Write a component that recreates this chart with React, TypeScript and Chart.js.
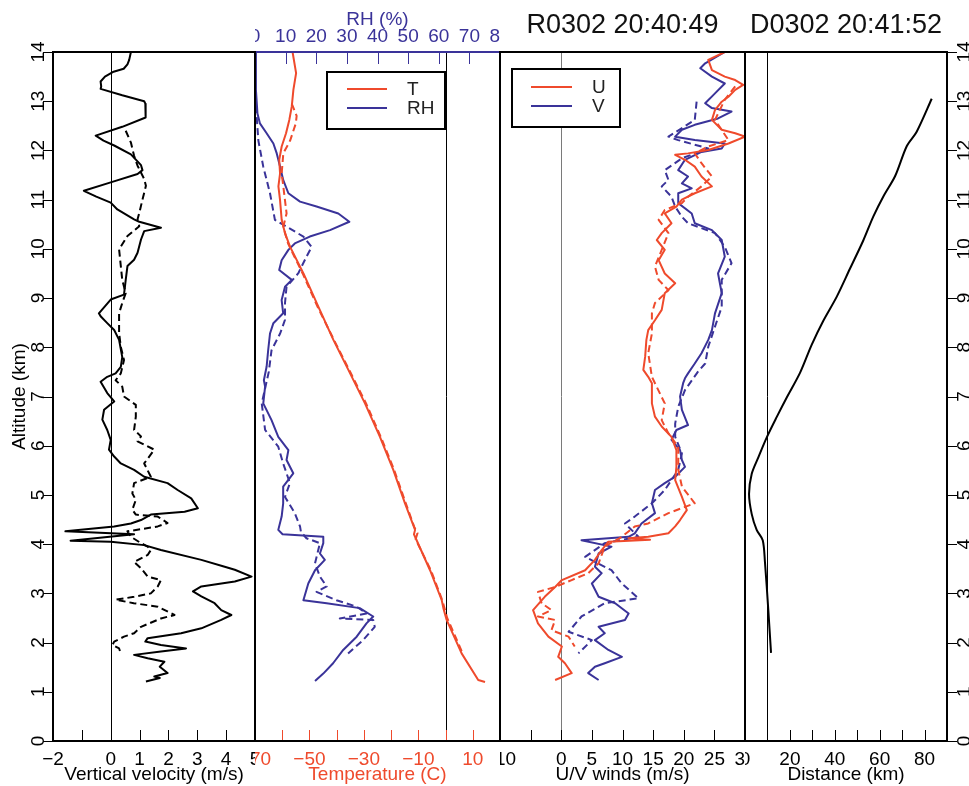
import React, { useEffect, useRef } from 'react';
import { Chart, registerables } from 'chart.js';

Chart.register(...registerables);

const FONT = '"Liberation Sans", Arial, Helvetica, sans-serif';
const RED = '#ef4a2c';
const BLUE = '#3a3399';
const BLACK = '#000000';
const FS = 19;

type Pt = [number, number]; // [value, altitude km]

// ---- Panel 1: vertical velocity (m/s) ----
const vvSolid: Pt[] = [
  [0.70, 14.0], [0.64, 13.84], [0.58, 13.75], [0.45, 13.66], [0.1, 13.6], [-0.2, 13.5], [-0.35, 13.4], [-0.33, 13.3],
  [-0.35, 13.25], [0.4, 13.12], [1.16, 13.0], [1.2, 12.95], [1.22, 12.8], [1.2, 12.67], [0.4, 12.48], [-0.52, 12.3],
  [-0.25, 12.2], [0.12, 12.1], [0.7, 11.92], [1.05, 11.7], [1.1, 11.6], [0.93, 11.52], [0.0, 11.35], [-0.93, 11.18],
  [-0.5, 11.06], [0.0, 10.94], [0.23, 10.8], [0.81, 10.6], [0.99, 10.55], [1.74, 10.43], [1.16, 10.36], [1.05, 10.19],
  [0.93, 9.92], [0.81, 9.78], [0.58, 9.65], [0.52, 9.37], [0.46, 9.07], [0.0, 8.97], [-0.41, 8.69], [-0.35, 8.63],
  [-0.12, 8.49], [0.12, 8.35], [0.29, 8.15], [0.4, 7.8], [0.35, 7.6], [0.17, 7.47], [-0.12, 7.4], [-0.35, 7.3],
  [-0.12, 7.07], [0.12, 6.9], [-0.23, 6.73], [-0.29, 6.53], [-0.12, 6.32], [0.0, 6.12], [-0.06, 5.92], [0.12, 5.78],
  [0.35, 5.64], [0.81, 5.51], [1.16, 5.37], [1.97, 5.24], [2.32, 5.1], [2.79, 4.93], [3.02, 4.73], [2.56, 4.66],
  [1.39, 4.6], [1.05, 4.49], [0.7, 4.42], [0.12, 4.36], [-1.57, 4.26], [0.81, 4.2], [-1.39, 4.07], [0.0, 4.05],
  [1.16, 3.98], [1.74, 3.88], [3.14, 3.68], [3.95, 3.54], [4.3, 3.48], [4.88, 3.34], [4.3, 3.24], [3.14, 3.14],
  [2.85, 3.04], [3.14, 2.94], [3.6, 2.8], [3.83, 2.66], [4.18, 2.56], [3.83, 2.46], [3.14, 2.29], [2.44, 2.19],
  [1.28, 2.09], [1.2, 2.02], [1.74, 1.95], [2.61, 1.88], [1.74, 1.82], [0.81, 1.75], [1.28, 1.68], [1.86, 1.61],
  [1.7, 1.51], [1.97, 1.38], [1.51, 1.31], [1.7, 1.28], [1.22, 1.21],
];
const vvDashed: Pt[] = [
  [0.52, 12.4], [0.7, 12.16], [0.81, 11.89], [0.93, 11.69], [1.16, 11.42], [1.22, 11.28], [1.1, 11.0], [0.99, 10.73],
  [0.93, 10.6], [0.99, 10.46], [0.58, 10.26], [0.29, 9.99], [0.35, 9.65], [0.4, 9.37], [0.52, 9.1], [0.4, 8.9],
  [0.29, 8.69], [0.29, 8.29], [0.35, 8.01], [0.46, 7.74], [0.35, 7.47], [0.17, 7.33], [0.4, 7.2], [0.46, 7.0],
  [0.87, 6.83], [0.87, 6.59], [0.81, 6.32], [1.05, 6.19], [0.93, 6.09], [1.51, 5.92], [1.16, 5.64], [1.39, 5.37],
  [0.81, 5.24], [0.75, 5.03], [0.87, 4.9], [0.75, 4.7], [0.87, 4.6], [1.63, 4.56], [1.97, 4.43], [1.63, 4.36],
  [0.58, 4.26], [0.7, 4.15], [1.05, 4.02], [1.28, 3.95], [1.39, 3.88], [1.28, 3.78], [0.81, 3.64], [1.05, 3.51],
  [1.28, 3.34], [1.74, 3.27], [1.63, 3.14], [1.39, 3.0], [0.81, 2.93], [0.17, 2.87], [0.8, 2.8], [1.63, 2.73],
  [2.21, 2.56], [1.74, 2.49], [1.05, 2.32], [0.81, 2.19], [0.46, 2.12], [0.12, 2.02], [0.06, 1.95], [0.29, 1.88],
  [0.35, 1.78],
];

// ---- Panel 2: temperature (C) and RH (%) ----
const tSolid: Pt[] = [
  [-56.2, 14.0], [-54.9, 13.57], [-55.9, 13.23], [-56.5, 12.89], [-57.4, 12.62], [-58.6, 12.35], [-60.2, 12.08],
  [-61.1, 11.81], [-60.8, 11.53], [-61.4, 11.27], [-60.8, 10.99], [-60.2, 10.59], [-59.0, 10.32], [-57.1, 10.04],
  [-52.2, 9.5], [-46.7, 8.82], [-41.2, 8.15], [-35.7, 7.54], [-29.6, 6.86], [-24.1, 6.18], [-19.2, 5.51],
  [-14.9, 4.83], [-11.2, 4.29], [-11.6, 4.2], [-11.2, 4.15], [-5.7, 3.47], [-1.4, 2.86], [-0.8, 2.7], [0.4, 2.46],
  [5.9, 1.78], [12.0, 1.24], [14.5, 1.2],
];
const tDashed: Pt[] = [
  [-56.5, 12.95], [-54.7, 12.7], [-55.0, 12.55], [-57.1, 12.2], [-59.6, 11.94], [-60.2, 11.53], [-59.6, 11.27],
  [-58.4, 10.72], [-59.6, 10.45], [-57.8, 10.1], [-52.5, 9.5], [-47.0, 8.82], [-41.0, 8.15], [-35.4, 7.54],
  [-29.2, 6.86], [-23.8, 6.18], [-18.9, 5.51], [-14.6, 4.83], [-11.5, 4.35], [-10.3, 4.22], [-11.0, 4.1],
  [-5.4, 3.47], [-1.2, 2.86], [0.6, 2.5], [6.3, 1.78],
];
const rhSolid: Pt[] = [
  [0.3, 14.0], [0.3, 13.23], [0.8, 12.75], [1.6, 12.55], [3.8, 12.35], [6.0, 12.14], [7.1, 11.94], [8.2, 11.67],
  [9.2, 11.4], [10.9, 11.13], [14.7, 10.96], [20.1, 10.86], [27.2, 10.72], [30.8, 10.55], [24.5, 10.38],
  [17.9, 10.25], [13.0, 10.11], [10.9, 9.98], [8.7, 9.77], [7.9, 9.57], [12.0, 9.37], [9.8, 9.23], [8.7, 8.96],
  [9.2, 8.69], [6.0, 8.49], [4.9, 8.28], [4.3, 7.94], [3.8, 7.61], [2.9, 7.33], [3.3, 7.2], [2.7, 6.86],
  [5.4, 6.52], [7.6, 6.18], [10.9, 5.91], [10.3, 5.71], [12.5, 5.44], [9.2, 5.17], [9.2, 4.83], [8.7, 4.56],
  [7.6, 4.29], [9.0, 4.2], [22.3, 4.15], [22.3, 4.02], [21.2, 3.81], [22.8, 3.68], [19.6, 3.47], [17.4, 3.2],
  [15.8, 2.86], [23.4, 2.8], [34.2, 2.7], [38.6, 2.53], [36.4, 2.39], [33.2, 2.12], [28.8, 1.85], [25.5, 1.58],
  [22.3, 1.37], [19.6, 1.22],
];
const rhDashed: Pt[] = [
  [0.3, 12.9], [1.1, 12.2], [2.7, 11.67], [4.9, 11.13], [6.5, 10.59], [10.3, 10.45], [15.8, 10.25], [18.5, 10.04],
  [16.8, 9.84], [14.1, 9.5], [10.3, 9.23], [9.8, 8.9], [9.8, 8.56], [8.2, 8.28], [5.4, 7.94], [4.5, 7.5],
  [2.2, 6.86], [3.3, 6.32], [7.6, 5.98], [9.2, 5.64], [11.4, 5.24], [9.8, 4.96], [13.0, 4.63], [14.7, 4.36],
  [15.0, 4.25], [16.8, 4.12], [21.2, 4.02], [19.6, 3.61], [21.2, 3.34], [23.4, 3.14], [20.1, 3.03], [26.6, 2.86],
  [33.2, 2.73], [36.4, 2.59], [27.7, 2.49], [38.6, 2.46], [39.1, 2.32], [35.3, 2.05], [30.4, 1.78],
];

// ---- Panel 3: U / V winds (m/s) ----
const uSolid: Pt[] = [
  [26.7, 14.0], [24.0, 13.84], [24.6, 13.63], [26.7, 13.5], [28.4, 13.43], [29.7, 13.33], [28.4, 13.23],
  [27.3, 13.09], [26.2, 12.99], [25.1, 12.82], [24.6, 12.62], [26.2, 12.42], [28.4, 12.35], [30.0, 12.28],
  [27.3, 12.14], [24.0, 12.01], [20.7, 11.94], [18.6, 11.91], [20.2, 11.81], [21.8, 11.67], [22.9, 11.47],
  [24.6, 11.27], [21.8, 11.13], [19.7, 11.0], [18.8, 10.86], [16.9, 10.72], [18.0, 10.52], [16.4, 10.32],
  [15.6, 10.18], [16.9, 9.98], [15.9, 9.77], [16.9, 9.5], [18.6, 9.3], [16.9, 9.1], [16.4, 8.76], [15.3, 8.55],
  [14.2, 8.35], [13.9, 8.15], [13.7, 7.81], [13.4, 7.54], [14.2, 7.4], [14.8, 7.27], [14.8, 6.86], [15.3, 6.59],
  [16.4, 6.39], [18.0, 6.18], [18.8, 5.91], [18.8, 5.57], [18.6, 5.3], [19.7, 4.96], [20.5, 4.69], [19.4, 4.49],
  [18.6, 4.36], [17.5, 4.22], [14.2, 4.15], [11.0, 4.12], [14.5, 4.09], [7.7, 4.05], [6.6, 3.88], [5.5, 3.68],
  [3.9, 3.47], [0.1, 3.27], [-1.0, 3.13], [-2.7, 2.93], [-4.6, 2.66], [-3.8, 2.39], [-2.1, 2.12], [0.1, 1.92],
  [-0.5, 1.71], [0.6, 1.58], [1.7, 1.38], [-1.0, 1.24],
];
const uDashed: Pt[] = [
  [28.4, 13.3], [26.7, 13.03], [25.1, 12.62], [27.3, 12.21], [24.0, 12.08], [21.8, 11.94], [22.9, 11.74],
  [24.6, 11.47], [22.9, 11.27], [20.7, 11.06], [19.7, 10.93], [16.9, 10.79], [15.9, 10.59], [17.5, 10.32],
  [16.4, 9.98], [15.3, 9.64], [15.9, 9.37], [17.5, 9.16], [15.3, 8.9], [14.8, 8.69], [14.8, 8.28], [14.2, 7.88],
  [14.8, 7.4], [15.3, 7.27], [16.9, 6.86], [16.4, 6.52], [17.5, 6.25], [19.1, 5.98], [19.1, 5.51], [19.7, 5.17],
  [21.8, 4.83], [17.5, 4.63], [14.2, 4.42], [12.0, 4.36], [9.9, 4.15], [7.1, 3.95], [6.1, 3.61], [4.4, 3.41],
  [1.7, 3.27], [-1.0, 3.13], [-3.8, 3.03], [-3.2, 2.8], [-1.6, 2.66], [-3.8, 2.53], [-1.0, 2.46], [-1.6, 2.25],
  [1.2, 2.12], [2.2, 1.92],
];
const vSolid: Pt[] = [
  [26.7, 14.0], [23.5, 13.77], [22.7, 13.67], [24.6, 13.5], [26.7, 13.36], [25.1, 13.16], [23.5, 12.96],
  [24.6, 12.86], [27.8, 12.79], [25.6, 12.65], [21.8, 12.52], [19.7, 12.42], [18.6, 12.28], [21.8, 12.21],
  [26.7, 12.14], [26.2, 12.04], [22.9, 11.97], [20.2, 11.81], [19.1, 11.6], [20.7, 11.47], [19.7, 11.33],
  [21.3, 11.23], [19.1, 11.13], [19.1, 10.93], [21.3, 10.72], [21.8, 10.52], [24.6, 10.38], [26.2, 10.18],
  [26.7, 9.84], [25.6, 9.5], [26.2, 9.1], [25.1, 8.69], [24.6, 8.35], [24.0, 8.15], [22.9, 7.88], [21.8, 7.67],
  [20.7, 7.47], [20.2, 7.37], [19.9, 7.27], [19.4, 7.0], [19.7, 6.73], [20.7, 6.42], [18.8, 6.32], [18.0, 6.12],
  [19.4, 5.91], [19.7, 5.71], [20.2, 5.57], [18.6, 5.37], [16.9, 5.24], [15.3, 5.1], [14.8, 4.83], [15.3, 4.63],
  [13.1, 4.42], [12.0, 4.22], [11.0, 4.15], [3.3, 4.08], [8.2, 3.95], [6.1, 3.81], [5.5, 3.54], [6.6, 3.41],
  [5.0, 3.2], [6.1, 2.93], [8.8, 2.8], [11.0, 2.59], [10.4, 2.46], [6.1, 2.32], [7.1, 2.19], [5.5, 2.05],
  [7.7, 1.85], [9.9, 1.71], [7.1, 1.58], [5.5, 1.51], [4.4, 1.38], [6.1, 1.24],
];
const vDashed: Pt[] = [
  [22.1, 12.99], [21.8, 12.62], [17.5, 12.28], [19.1, 12.21], [24.0, 12.04], [19.7, 11.84], [16.9, 11.6],
  [17.5, 11.4], [16.4, 11.27], [18.0, 11.06], [18.6, 10.86], [19.7, 10.65], [20.7, 10.52], [25.1, 10.32],
  [26.7, 10.04], [27.8, 9.71], [26.2, 9.37], [26.2, 8.82], [25.1, 8.42], [24.0, 8.01], [23.5, 7.67], [22.3, 7.5],
  [20.2, 7.13], [19.1, 6.79], [18.6, 6.45], [18.6, 6.18], [19.7, 5.84], [19.1, 5.51], [16.9, 5.1], [14.8, 4.83],
  [12.0, 4.56], [10.4, 4.42], [12.6, 4.15], [7.1, 4.02], [3.9, 3.74], [8.2, 3.47], [9.9, 3.2], [12.6, 2.9],
  [7.1, 2.8], [3.3, 2.53], [1.2, 2.22], [5.0, 2.05], [2.8, 1.78],
];

// ---- Panel 4: distance (km) ----
const distance: Pt[] = [
  [83.2, 13.05], [76.5, 12.38], [72.1, 12.09], [66.9, 11.48], [61.7, 11.07], [57.2, 10.66], [52.7, 10.17],
  [46.8, 9.6], [40.9, 9.03], [34.9, 8.54], [29.7, 8.05], [24.5, 7.48], [18.6, 6.98], [14.1, 6.58], [9.7, 6.17],
  [5.9, 5.76], [3.0, 5.43], [1.8, 5.02], [3.0, 4.61], [5.2, 4.29], [7.9, 4.08], [8.9, 3.63], [10.4, 2.65],
  [11.6, 1.79],
];

// ---- tick labels ----
const altTicks = [0, 1, 2, 3, 4, 5, 6, 7, 8, 9, 10, 11, 12, 13, 14];
const vvLabels = [-2, 0, 1, 2, 3, 4, 5];
const tLabels = [-70, -50, -30, -10, 10];
const rhLabels = [0, 10, 20, 30, 40, 50, 60, 70, 80];
const uvLabels = [-10, 0, 5, 10, 15, 20, 25, 30];
const distLabels = [0, 20, 40, 60, 80];

const fmt = (v: number) => (v < 0 ? '\u2212' + Math.abs(v) : String(v));
const pts = (a: Pt[]) => a.map(([x, y]) => ({ x, y }));

function ds(data: Pt[], color: string, dashed: boolean, axis = 'x', tension = 0) {
  return {
    data: pts(data),
    xAxisID: axis,
    yAxisID: 'y',
    showLine: true,
    borderColor: color,
    backgroundColor: color,
    borderWidth: 2,
    borderDash: dashed ? [7, 4] : [],
    borderJoinStyle: 'round',
    pointRadius: 0,
    fill: false,
    tension,
  };
}

function xScale(min: number, max: number, step: number, labels: number[], color: string, title: string, top = false) {
  return {
    type: 'linear',
    position: top ? 'top' : 'bottom',
    min,
    max,
    ticks: {
      stepSize: step,
      autoSkip: false,
      minRotation: 0,
      maxRotation: 0,
      padding: top ? 4 : 7,
      color,
      font: { size: FS, family: FONT },
      callback: (v: number) => (labels.includes(v) ? fmt(v) : ''),
    },
    grid: { display: false, drawTicks: false },
    border: { display: false },
    title: {
      display: true,
      text: title,
      color,
      font: { size: FS, family: FONT },
      padding: top ? { top: 8, bottom: 0 } : { top: 0, bottom: 0 },
    },
    afterFit: (s: any) => {
      s.height = top ? 52 : 45;
      s.paddingLeft = 0;
      s.paddingRight = 0;
    },
  };
}

function yScale(show: 'left' | 'right' | null) {
  return {
    type: 'linear',
    position: show === 'right' ? 'right' : 'left',
    display: show !== null,
    min: 0,
    max: 14,
    ticks: { stepSize: 1, display: false },
    grid: { display: false, drawTicks: false },
    border: { display: false },
    title: {
      display: show === 'left',
      text: 'Altitude (km)',
      color: BLACK,
      font: { size: FS, family: FONT },
      padding: { top: 8, bottom: 0 },
    },
    afterFit: (s: any) => {
      s.width = show === 'left' ? 53 : show === 'right' ? 22 : 0;
      s.paddingTop = 0;
      s.paddingBottom = 0;
    },
  };
}

interface LegendSpec {
  x: number; y: number; w: number; h: number; l0: number; l1: number; tx: number; rows: number[];
  items: { label: string; color: string }[];
}
interface Deco {
  ref: { value: number; color: string };
  bottomTickColor: string;
  topScale?: string;
  topColor?: string;
  yAxis?: 'left' | 'right';
  title?: string;
  legend?: LegendSpec;
}

function decoPlugin(d: Deco) {
  return {
    id: 'deco',
    beforeDatasetsDraw(chart: any) {
      const { ctx, chartArea: a } = chart;
      const px = Math.round(chart.scales.x.getPixelForValue(d.ref.value)) + 0.5;
      ctx.save();
      ctx.strokeStyle = d.ref.color;
      ctx.lineWidth = 1;
      ctx.beginPath();
      ctx.moveTo(px, a.top);
      ctx.lineTo(px, a.bottom);
      ctx.stroke();
      ctx.restore();
    },
    afterDraw(chart: any) {
      const { ctx, chartArea: a } = chart;
      ctx.save();
      // inside ticks on the bottom axis
      const xs = chart.scales.x;
      ctx.lineWidth = 1;
      ctx.strokeStyle = d.bottomTickColor;
      ctx.beginPath();
      xs.ticks.forEach((t: any) => {
        if (t.value <= xs.min || t.value >= xs.max) return;
        const px = Math.round(xs.getPixelForValue(t.value)) + 0.5;
        ctx.moveTo(px, a.bottom);
        ctx.lineTo(px, a.bottom - 11);
      });
      ctx.stroke();
      // inside ticks on the top axis
      if (d.topScale) {
        const ts = chart.scales[d.topScale];
        ctx.strokeStyle = d.topColor;
        ctx.beginPath();
        ts.ticks.forEach((t: any) => {
          if (t.value <= ts.min || t.value >= ts.max) return;
          const px = Math.round(ts.getPixelForValue(t.value)) + 0.5;
          ctx.moveTo(px, a.top);
          ctx.lineTo(px, a.top + 12);
        });
        ctx.stroke();
      }
      // altitude ticks + rotated labels
      if (d.yAxis) {
        const ys = chart.scales.y;
        const left = d.yAxis === 'left';
        const x0 = left ? a.left : a.right;
        ctx.strokeStyle = BLACK;
        ctx.fillStyle = BLACK;
        ctx.font = `${FS}px ${FONT}`;
        ctx.textAlign = 'center';
        ctx.textBaseline = 'alphabetic';
        altTicks.forEach((v) => {
          const yy = ys.getPixelForValue(v);
          const py = Math.round(yy) + 0.5;
          ctx.beginPath();
          ctx.moveTo(x0, py);
          ctx.lineTo(x0 + (left ? -10 : 10), py);
          ctx.stroke();
          ctx.save();
          ctx.translate(left ? a.left - 9.5 : a.right + 22.5, yy);
          ctx.rotate(-Math.PI / 2);
          ctx.fillText(fmt(v), 0, 0);
          ctx.restore();
        });
      }
      // frame
      ctx.lineWidth = 2;
      ctx.strokeStyle = BLACK;
      ctx.strokeRect(a.left, a.top, a.right - a.left, a.bottom - a.top);
      if (d.topColor) {
        ctx.strokeStyle = d.topColor;
        ctx.beginPath();
        ctx.moveTo(a.left + 1, a.top);
        ctx.lineTo(a.right - 1, a.top);
        ctx.stroke();
      }
      // legend
      if (d.legend) {
        const L = d.legend;
        ctx.fillStyle = '#ffffff';
        ctx.fillRect(a.left + L.x, a.top + L.y, L.w, L.h);
        ctx.strokeStyle = BLACK;
        ctx.lineWidth = 2;
        ctx.strokeRect(a.left + L.x, a.top + L.y, L.w, L.h);
        ctx.font = `${FS}px ${FONT}`;
        ctx.textAlign = 'left';
        ctx.textBaseline = 'middle';
        L.items.forEach((it, i) => {
          const yy = a.top + L.rows[i];
          ctx.strokeStyle = it.color;
          ctx.lineWidth = 2;
          ctx.beginPath();
          ctx.moveTo(a.left + L.l0, yy);
          ctx.lineTo(a.left + L.l1, yy);
          ctx.stroke();
          ctx.fillStyle = '#222222';
          ctx.fillText(it.label, a.left + L.tx, yy + 1);
        });
      }
      // panel title
      if (d.title) {
        ctx.fillStyle = '#111111';
        ctx.font = `27px ${FONT}`;
        ctx.textAlign = 'center';
        ctx.textBaseline = 'alphabetic';
        ctx.fillText(d.title, (a.left + a.right) / 2, 33);
      }
      ctx.restore();
    },
  };
}

function baseConfig(datasets: any[], scales: any, padTop: number, deco: Deco) {
  return {
    type: 'scatter',
    data: { datasets },
    options: {
      responsive: false,
      maintainAspectRatio: false,
      animation: false,
      devicePixelRatio: 1,
      events: [],
      layout: { padding: { top: padTop, left: 0, right: 0, bottom: 0 } },
      plugins: { legend: { display: false }, tooltip: { enabled: false }, title: { display: false } },
      scales,
    },
    plugins: [decoPlugin(deco)],
  } as any;
}

const H = 786;
const panels = [
  { left: 0, width: 255 },
  { left: 255, width: 245 },
  { left: 500, width: 245 },
  { left: 745, width: 224 },
];

export default function App() {
  const r1 = useRef<HTMLCanvasElement>(null);
  const r2 = useRef<HTMLCanvasElement>(null);
  const r3 = useRef<HTMLCanvasElement>(null);
  const r4 = useRef<HTMLCanvasElement>(null);

  useEffect(() => {
    Chart.defaults.font.family = FONT;
    const c1 = new Chart(
      r1.current!,
      baseConfig(
        [ds(vvSolid, BLACK, false), ds(vvDashed, BLACK, true)],
        { x: xScale(-2, 5, 1, vvLabels, BLACK, 'Vertical velocity (m/s)'), y: yScale('left') },
        52,
        { ref: { value: 0, color: BLACK }, bottomTickColor: BLACK, yAxis: 'left' }
      )
    );
    const c2 = new Chart(
      r2.current!,
      baseConfig(
        [
          ds(tSolid, RED, false, 'x'),
          ds(tDashed, RED, true, 'x'),
          ds(rhSolid, BLUE, false, 'x2'),
          ds(rhDashed, BLUE, true, 'x2'),
        ],
        {
          x: xScale(-70, 20, 10, tLabels, RED, 'Temperature (C)'),
          x2: { ...xScale(0, 80, 10, rhLabels, BLUE, 'RH (%)', true), axis: 'x' },
          y: yScale(null),
        },
        0,
        {
          ref: { value: 0, color: BLACK },
          bottomTickColor: RED,
          topScale: 'x2',
          topColor: BLUE,
          legend: {
            x: 72, y: 20, w: 118, h: 57, l0: 92, l1: 132, tx: 152, rows: [37, 56],
            items: [
              { label: 'T', color: RED },
              { label: 'RH', color: BLUE },
            ],
          },
        }
      )
    );
    const c3 = new Chart(
      r3.current!,
      baseConfig(
        [ds(uSolid, RED, false), ds(uDashed, RED, true), ds(vSolid, BLUE, false), ds(vDashed, BLUE, true)],
        { x: xScale(-10, 30, 5, uvLabels, BLACK, 'U/V winds (m/s)'), y: yScale(null) },
        52,
        {
          ref: { value: 0, color: '#7a7a7a' },
          bottomTickColor: BLACK,
          title: 'R0302 20:40:49',
          legend: {
            x: 12, y: 17, w: 108, h: 58, l0: 31, l1: 72, tx: 92, rows: [35, 54],
            items: [
              { label: 'U', color: RED },
              { label: 'V', color: BLUE },
            ],
          },
        }
      )
    );
    const c4 = new Chart(
      r4.current!,
      baseConfig(
        [ds(distance, BLACK, false, 'x', 0.3)],
        { x: xScale(0, 90, 10, distLabels, BLACK, 'Distance (km)'), y: yScale('right') },
        52,
        { ref: { value: 10, color: BLACK }, bottomTickColor: BLACK, yAxis: 'right', title: 'D0302 20:41:52' }
      )
    );
    return () => {
      c1.destroy();
      c2.destroy();
      c3.destroy();
      c4.destroy();
    };
  }, []);

  const refs = [r1, r2, r3, r4];
  return (
    <div style={{ position: 'absolute', left: 0, top: 0, width: 969, height: H, background: '#ffffff', overflow: 'hidden' }}>
      {panels.map((p, i) => (
        <canvas
          key={i}
          ref={refs[i]}
          width={p.width}
          height={H}
          style={{ position: 'absolute', left: p.left, top: 0, width: p.width, height: H }}
        />
      ))}
    </div>
  );
}
